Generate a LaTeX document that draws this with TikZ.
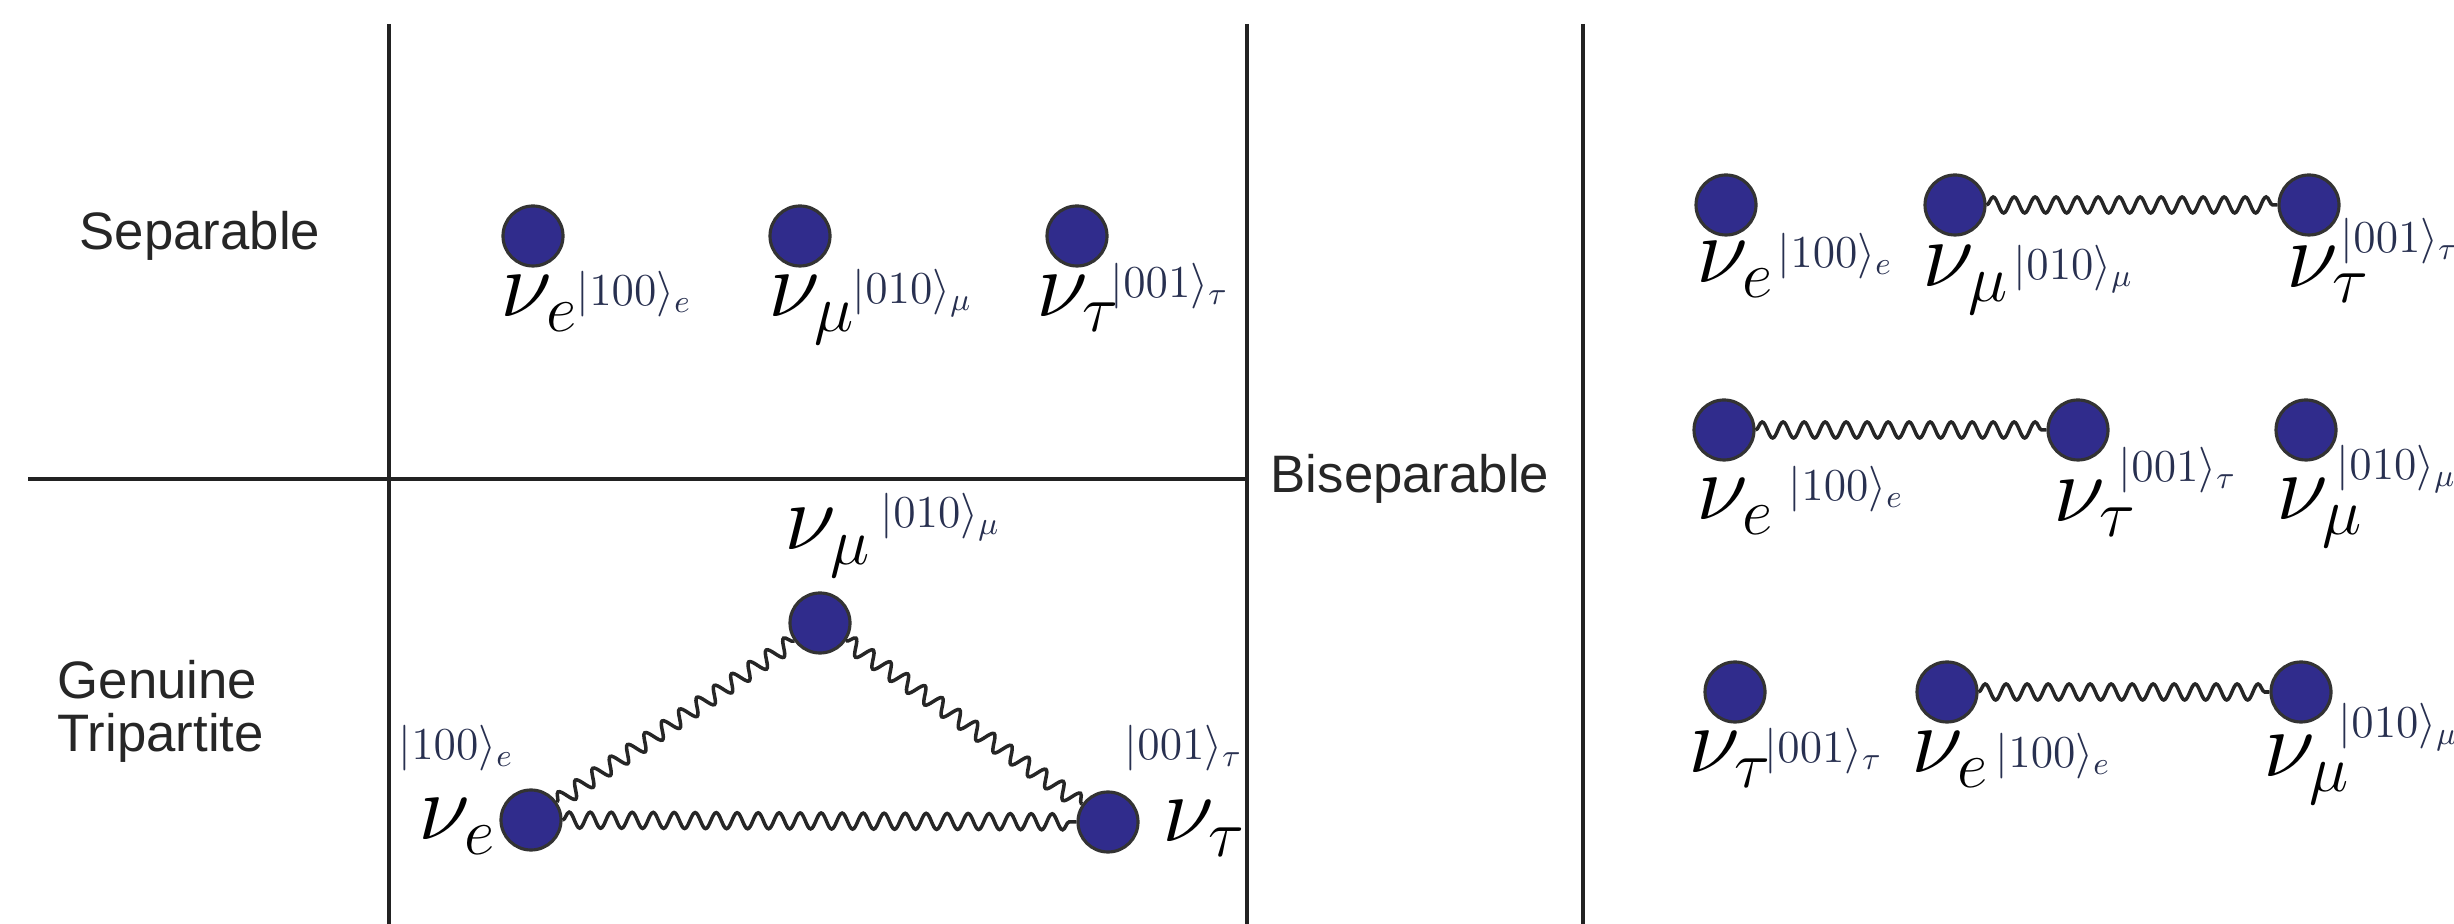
\RequirePackage{fix-cm}
\documentclass[tikz,border=0pt]{standalone}
\usepackage[no-math]{fontspec}
\setmainfont{Liberation Sans}
\usetikzlibrary{decorations.pathmorphing, positioning}
\definecolor{ballblue}{RGB}{48,44,140}
\definecolor{ketnavy}{RGB}{40,48,80}
\definecolor{linegray}{RGB}{34,34,34}

\begin{document}
\begin{tikzpicture}[
        x=0.1mm,
        y=-0.1mm,
        ball/.style={
            circle,
            draw=black!80,
            line width=0.9pt,
            fill=ballblue,
            minimum size=6mm,
            inner sep=0
        },
        nu/.style={
            anchor=base west,
            inner sep=0,
            font=\fontsize{27}{27}\selectfont
        },
        ket/.style={
            anchor=base west,
            inner sep=0,
            text=ketnavy,
            font=\fontsize{13}{13}\selectfont
        },
        wave/.style={
            draw=black!85,
            line width=1pt,
            decorate,
            decoration={snake, segment length=2.1mm, amplitude=0.8mm}
        },
        divider/.style={
            draw=linegray,
            line width=1.4pt
        },
        heading/.style={
            inner sep=0,
            text=black!85,
            font=\fontsize{15}{15}\selectfont
        }
    ]

        \useasboundingbox (0,0) rectangle (2454,924);

        \draw[divider] (389,24) -- (389,924);
        \draw[divider] (1247,24) -- (1247,924);
        \draw[divider] (1583,24) -- (1583,924);
        \draw[divider] (28,479) -- (1247,479);

        \node[heading, anchor=base] (separable) at (200,250) {Separable};
        \node[heading, anchor=north west, align=left] (genuine) at (57,660) {Genuine\\Tripartite};
        \node[heading, anchor=base] (biseparable) at (1410,493) {Biseparable};

        \node[ball] (sepe) at (533,236) {};
        \node[ball] (sepmu) at (800,236) {};
        \node[ball] (septau) at (1077,236) {};
        \node[nu] (sepenu) at (500,317) {$\nu_e$};
        \node[nu] (sepmunu) at (768,317) {$\nu_\mu$};
        \node[nu] (septaunu) at (1036,317) {$\nu_\tau$};
        \node[ket] (sepeket) at (576,306) {$|100\rangle_e$};
        \node[ket] (sepmuket) at (852,304) {$|010\rangle_\mu$};
        \node[ket] (septauket) at (1110,298) {$|001\rangle_\tau$};

        \node[ball] (gene) at (531,820) {};
        \node[ball] (genmu) at (820,623) {};
        \node[ball] (gentau) at (1108,822) {};
        \node[nu] (genenu) at (418,840) {$\nu_e$};
        \node[nu] (genmunu) at (784,550) {$\nu_\mu$};
        \node[nu] (gentaunu) at (1162,842) {$\nu_\tau$};
        \node[ket] (geneket) at (398,760) {$|100\rangle_e$};
        \node[ket] (genmuket) at (880,528) {$|010\rangle_\mu$};
        \node[ket] (gentauket) at (1124,760) {$|001\rangle_\tau$};

        \draw[wave] (gene) -- (genmu);
        \draw[wave] (genmu) -- (gentau);
        \draw[wave] (gene) -- (gentau);

        \node[ball] (onee) at (1726,205) {};
        \node[ball] (onemu) at (1955,205) {};
        \node[ball] (onetau) at (2309,205) {};
        \node[nu] (oneenu) at (1696,283) {$\nu_e$};
        \node[nu] (onemunu) at (1922,287) {$\nu_\mu$};
        \node[nu] (onetaunu) at (2286,288) {$\nu_\tau$};
        \node[ket] (oneeket) at (1777,268) {$|100\rangle_e$};
        \node[ket] (onemuket) at (2013,280) {$|010\rangle_\mu$};
        \node[ket] (onetauket) at (2340,253) {$|001\rangle_\tau$};

        \draw[wave] (onemu) -- (onetau);

        \node[ball] (twoe) at (1724,430) {};
        \node[ball] (twotau) at (2078,430) {};
        \node[ball] (twomu) at (2306,430) {};
        \node[nu] (twoenu) at (1696,520) {$\nu_e$};
        \node[nu] (twotaunu) at (2053,522) {$\nu_\tau$};
        \node[nu] (twomunu) at (2276,520) {$\nu_\mu$};
        \node[ket] (twoeket) at (1788,501) {$|100\rangle_e$};
        \node[ket] (twotauket) at (2118,482) {$|001\rangle_\tau$};
        \node[ket] (twomuket) at (2336,480) {$|010\rangle_\mu$};

        \draw[wave] (twoe) -- (twotau);

        \node[ball] (threetau) at (1735,692) {};
        \node[ball] (threee) at (1947,692) {};
        \node[ball] (threemu) at (2301,692) {};
        \node[nu] (threetaunu) at (1688,773) {$\nu_\tau$};
        \node[nu] (threeenu) at (1911,773) {$\nu_e$};
        \node[nu] (threemunu) at (2263,777) {$\nu_\mu$};
        \node[ket] (threetauket) at (1764,763) {$|001\rangle_\tau$};
        \node[ket] (threeeket) at (1995,768) {$|100\rangle_e$};
        \node[ket] (threemuket) at (2338,738) {$|010\rangle_\mu$};

        \draw[wave] (threee) -- (threemu);

    \end{tikzpicture}
\end{document}
